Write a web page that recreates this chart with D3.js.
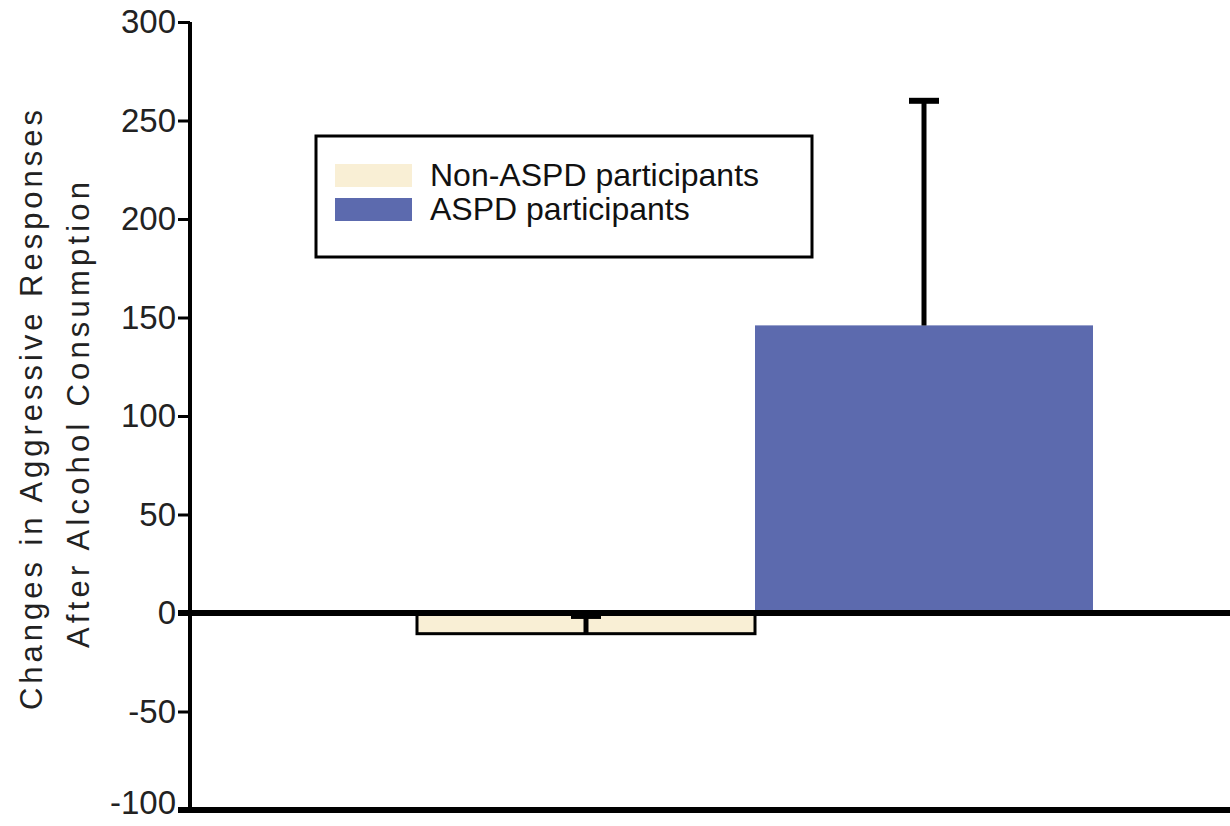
<!DOCTYPE html>
<html>
<head>
<meta charset="utf-8">
<script src="https://cdn.jsdelivr.net/npm/d3@7"></script>
<style>
  body { margin: 0; background: #fff; }
  text { font-family: "Liberation Sans", Arial, sans-serif; }
</style>
</head>
<body>
<div id="chart"></div>
<script>
// bar chart: change in aggressive responses, non-ASPD vs ASPD
var groups = ["Non-ASPD participants", "ASPD participants"];
var means = [-10.5, 146];
var errors = [9, 114];
var colors = ["#f9efd5", "#5c6aae"];
var yTicks = [-100, -50, 0, 50, 100, 150, 200, 250, 300];
var yTitle = ["Changes in Aggressive Responses", "After Alcohol Consumption"];

var svgWidth = 1230;
var svgHeight = 826;

var svg = d3.select("#chart")
  .append("svg")
  .attr("width", svgWidth)
  .attr("height", svgHeight);

var axisX = 190;

var y = d3.scaleLinear()
  .domain([-100, 300])
  .range([810, 22]);

var x = d3.scaleBand()
  .domain(groups)
  .range([417, 1093])
  .padding(0);

// bars
svg.selectAll("rect.bar")
  .data(groups)
  .enter()
  .append("rect")
  .attr("class", "bar")
  .attr("x", d => x(d))
  .attr("width", x.bandwidth())
  .attr("y", (d, i) => Math.min(y(0), y(means[i])))
  .attr("height", (d, i) => Math.abs(y(means[i]) - y(0)))
  .attr("fill", (d, i) => colors[i])
  .attr("stroke", (d, i) => i === 0 ? "#000" : "none")
  .attr("stroke-width", 3);

// error bars (one-sided, upward)
var capW = 30;
groups.forEach(function(g, i) {
  var cx = x(g) + x.bandwidth() / 2;
  svg.append("line")
    .attr("x1", cx).attr("x2", cx)
    .attr("y1", y(means[i])).attr("y2", y(means[i] + errors[i]))
    .attr("stroke", "#000").attr("stroke-width", 5);
  svg.append("line")
    .attr("x1", cx - capW / 2).attr("x2", cx + capW / 2)
    .attr("y1", y(means[i] + errors[i])).attr("y2", y(means[i] + errors[i]))
    .attr("stroke", "#000").attr("stroke-width", 6);
});

// zero line and bottom line
[0, -100].forEach(function(v) {
  svg.append("line")
    .attr("x1", axisX - 12).attr("x2", svgWidth)
    .attr("y1", y(v)).attr("y2", y(v))
    .attr("stroke", "#000").attr("stroke-width", 6);
});

// y axis
var yAxis = svg.append("g")
  .attr("transform", `translate(${axisX}, 0)`)
  .call(d3.axisLeft(y).tickValues(yTicks).tickSize(12).tickPadding(2).tickFormat(d => String(d)));

yAxis.select(".domain").attr("stroke", "#000").attr("stroke-width", 4)
  .attr("d", `M0,${y(300)}V${y(-100)}`);
yAxis.selectAll(".tick line").attr("stroke", "#000").attr("stroke-width", 3);
yAxis.selectAll(".tick text")
  .attr("font-size", 33)
  .attr("fill", "#222")
  .attr("font-family", "Liberation Sans, Arial, sans-serif");
// bottom label sits at the page edge, pull it up a touch so it stays in view
yAxis.selectAll(".tick text").filter(d => d === -100).attr("dy", "0.1em");

// y axis title
svg.append("text")
  .attr("transform", "translate(42, 410) rotate(-90)")
  .attr("text-anchor", "middle")
  .attr("font-size", 31)
  .attr("fill", "#222")
  .attr("textLength", 600)
  .text(yTitle[0]);
svg.append("text")
  .attr("transform", "translate(89, 415) rotate(-90)")
  .attr("text-anchor", "middle")
  .attr("font-size", 31)
  .attr("fill", "#222")
  .attr("textLength", 466)
  .text(yTitle[1]);

// legend
var legend = svg.append("g");
legend.append("rect")
  .attr("x", 316).attr("y", 136)
  .attr("width", 496).attr("height", 121)
  .attr("fill", "#fff").attr("stroke", "#000").attr("stroke-width", 3);

groups.forEach(function(g, i) {
  legend.append("rect")
    .attr("x", 335).attr("y", 164 + i * 34)
    .attr("width", 77).attr("height", 23)
    .attr("fill", colors[i]);
  legend.append("text")
    .attr("x", 430).attr("y", 186 + i * 34)
    .attr("font-size", 32)
    .attr("fill", "#111")
    .text(g);
});
</script>
</body>
</html>
